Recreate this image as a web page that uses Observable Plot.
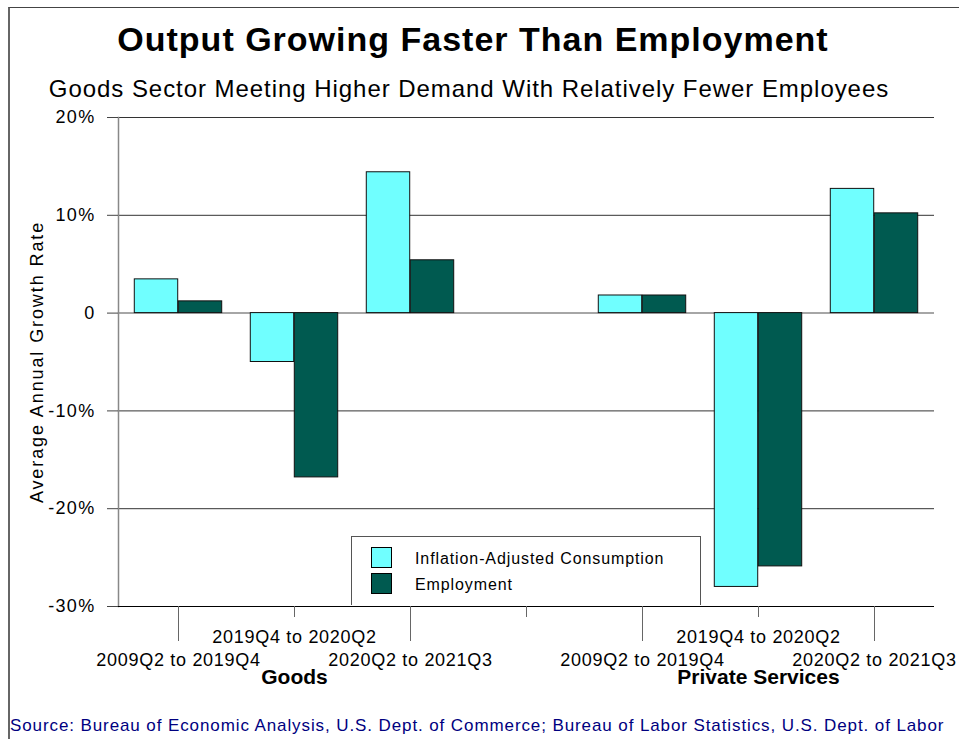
<!DOCTYPE html>
<html>
<head>
<meta charset="utf-8">
<script src="https://cdn.jsdelivr.net/npm/d3@7"></script>
<script src="https://cdn.jsdelivr.net/npm/@observablehq/plot@0.6"></script>
<style>
  html, body { margin: 0; padding: 0; background: #fff; }
  body { width: 959px; height: 739px; position: relative; overflow: hidden; font-family: "Liberation Sans", Arial, sans-serif; }
  #frame { position: absolute; left: 8px; top: 7px; width: 1000px; height: 800px; border-top: 1px solid #444; border-left: 2px solid #666; }
  #title { position: absolute; left: 8px; width: 930px; top: 20px; height: 38px; line-height: 38px; font-size: 34px; font-weight: bold; text-align: center; color: #000; letter-spacing: 1px; }
  #subtitle { position: absolute; left: 0px; width: 938px; top: 75px; height: 28px; line-height: 28px; font-size: 24px; text-align: center; color: #000; letter-spacing: 0.95px; }
  #chart { position: absolute; left: 0; top: 100px; }
  #source { position: absolute; left: 10px; top: 716px; height: 20px; line-height: 20px; font-size: 17px; color: #000080; white-space: nowrap; letter-spacing: 0.9px; }
  #legend { position: absolute; left: 351px; top: 536px; width: 348px; height: 68px; border: 1px solid #555; border-bottom: none; background: #fff; }
  .sw { position: absolute; left: 19px; width: 21px; height: 21px; border: 1px solid #000; box-sizing: border-box; }
  .lt { position: absolute; left: 63px; font-size: 16px; line-height: 20px; height: 20px; white-space: nowrap; color: #000; letter-spacing: 0.9px; }
  g[aria-label="y-axis tick label"] text { letter-spacing: 1.3px; }
  g[aria-label="x-axis tick label"] text { letter-spacing: 0.7px; }
</style>
</head>
<body>
<div id="frame"></div>
<div id="title"></div>
<div id="subtitle"></div>
<div id="chart"></div>
<div id="legend"></div>
<div id="source"></div>
<script>
// ---- data ----
const titleText = "Output Growing Faster Than Employment";
const subtitleText = "Goods Sector Meeting Higher Demand With Relatively Fewer Employees";
const sourceText = "Source: Bureau of Economic Analysis, U.S. Dept. of Commerce; Bureau of Labor Statistics, U.S. Dept. of Labor";
const yLabel = "Average Annual Growth Rate";
const sectors = ["Goods", "Private Services"];
const periods = ["2009Q2 to 2019Q4", "2019Q4 to 2020Q2", "2020Q2 to 2021Q3"];
const seriesNames = ["Inflation-Adjusted Consumption", "Employment"];
const seriesColors = ["#70FFFF", "#005A50"];
const consumption = [3.45, -5.0, 14.4, 1.8, -28.0, 12.7];   // Goods x3, Private Services x3
const employment  = [1.2, -16.8, 5.4, 1.8, -25.9, 10.2];
const yTicks = [-30, -20, -10, 0, 10, 20];
const yGrid = [20, 10, -10, -20];

// ---- build table ----
const keys = [];
sectors.forEach((s, si) => {
  periods.forEach(p => keys.push(s + "|" + p));
  if (si < sectors.length - 1) keys.push("gap");
});
const rows = [];
sectors.forEach((s, si) => periods.forEach((p, pi) => {
  const i = si * periods.length + pi;
  rows.push({key: s + "|" + p, series: seriesNames[0], value: consumption[i]});
  rows.push({key: s + "|" + p, series: seriesNames[1], value: employment[i]});
}));
const labelOf = k => k === "gap" ? "" : k.split("|")[1];
const longKeys = keys.filter((k, i) => i % 2 === 0);
const shortKeys = keys.filter((k, i) => i % 2 === 1);
const groupLabels = sectors.map(s => ({key: s + "|" + periods[1], label: s}));

document.getElementById("title").textContent = titleText;
document.getElementById("subtitle").textContent = subtitleText;
document.getElementById("source").textContent = sourceText;

const W = 959, H = 600, mL = 118, mR = 25, mT = 17, mB = 94;
const bw = (W - mL - mR) / keys.length;
const barW = 44;
const inner = bw / 2 - barW;

const chart = Plot.plot({
  width: W, height: H,
  marginLeft: mL, marginRight: mR, marginTop: mT, marginBottom: mB,
  style: {fontFamily: "'Liberation Sans', Arial, sans-serif", fontSize: "18px", color: "#000", background: "transparent", overflow: "visible"},
  x: {domain: keys, type: "band", padding: 0, axis: null},
  y: {domain: [-30, 20], axis: null},
  marks: [
    Plot.ruleY(yGrid, {stroke: "#333", strokeWidth: 1}),
    Plot.ruleY([0], {stroke: "#888", strokeWidth: 1.5}),
    Plot.barY(rows.filter(d => d.series === seriesNames[0]), {x: "key", y: "value", fill: seriesColors[0], stroke: "#111", strokeWidth: 1, insetLeft: inner, insetRight: bw / 2}),
    Plot.barY(rows.filter(d => d.series === seriesNames[1]), {x: "key", y: "value", fill: seriesColors[1], stroke: "#111", strokeWidth: 1, insetLeft: bw / 2, insetRight: inner}),
    Plot.frame({anchor: "left", stroke: "#888", strokeWidth: 1.5}),
    Plot.ruleY([-30], {stroke: "#000", strokeWidth: 1}),
    Plot.axisY({ticks: yTicks, tickSize: 11, tickPadding: 12, tickFormat: d => d === 0 ? "0" : d + "%", label: null, stroke: "#444", fontSize: 18}),
    Plot.axisX({ticks: longKeys, tickSize: 35, tickPadding: 12, tickFormat: labelOf, label: null, stroke: "#666", fontSize: 18}),
    Plot.axisX({ticks: shortKeys, tickSize: 11, tickPadding: 13, tickFormat: labelOf, label: null, stroke: "#666", fontSize: 18}),
    Plot.text(groupLabels, {x: "key", text: "label", frameAnchor: "bottom", dy: 77, fontSize: 21, fontWeight: "bold", fill: "#000"}),
    Plot.text([yLabel], {text: d => d, frameAnchor: "left", textAnchor: "middle", dx: -81, rotate: -90, fontSize: 18, fill: "#000"})
  ]
});
document.getElementById("chart").appendChild(chart);
// widen the rotated axis title's letter spacing to match the reference
d3.select(chart).selectAll("text").filter(function() { return this.textContent === yLabel; }).style("letter-spacing", "1.9px");

// legend
const lg = document.getElementById("legend");
const swTops = [10, 36], txTops = [12, 38];
seriesNames.forEach((n, i) => {
  const sw = document.createElement("div");
  sw.className = "sw"; sw.style.top = swTops[i] + "px"; sw.style.background = seriesColors[i];
  lg.appendChild(sw);
  const t = document.createElement("div");
  t.className = "lt"; t.style.top = txTops[i] + "px"; t.textContent = n;
  lg.appendChild(t);
});
</script>
</body>
</html>
